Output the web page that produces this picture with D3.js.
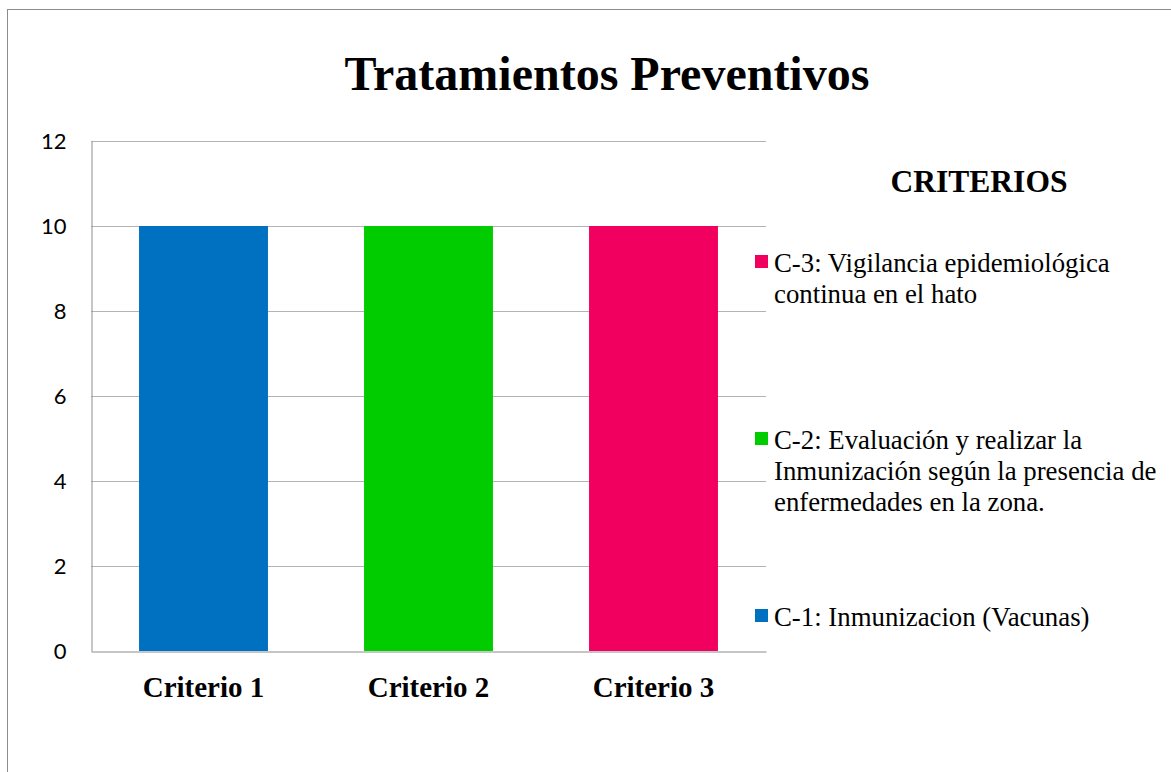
<!DOCTYPE html>
<html>
<head>
<meta charset="utf-8">
<script src="https://cdn.jsdelivr.net/npm/d3@7"></script>
<style>
  body { margin: 0; background: #fff; }
  svg { display: block; }
</style>
</head>
<body>
<div id="chart"></div>
<script>
// datos
const categories = ['Criterio 1', 'Criterio 2', 'Criterio 3'];
const values = [10, 10, 10];
const colors = ['#0070C0', '#00CC00', '#F2005F'];
const legendLabels = [
    'C-1: Inmunizacion (Vacunas)',
    'C-2: Evaluación y realizar la Inmunización según la presencia de enfermedades en la zona.',
    'C-3: Vigilancia epidemiológica continua en el hato'
];
const yTicks = [0, 2, 4, 6, 8, 10, 12];

const width = 1171, height = 772;
const plot = { left: 91, top: 141, right: 766, bottom: 651 };

const svg = d3.select('#chart')
    .append('svg')
    .attr('width', width)
    .attr('height', height);

// marco exterior
svg.append('rect')
    .attr('x', 7.5).attr('y', 9.5)
    .attr('width', 1200).attr('height', 800)
    .attr('fill', 'none')
    .attr('stroke', '#8c8c8c');

// titulo
svg.append('text')
    .attr('x', 607)
    .attr('y', 90)
    .attr('text-anchor', 'middle')
    .style('font-family', '"Liberation Serif", "Times New Roman", serif')
    .style('font-weight', 'bold')
    .style('font-size', '48px')
    .text('Tratamientos Preventivos');

// escalas
const xScale = d3.scaleBand()
    .domain(categories)
    .range([plot.left, plot.right]);

const yScale = d3.scaleLinear()
    .domain([0, 12])
    .range([plot.bottom, plot.top]);

const barWidth = xScale.bandwidth() * 0.573;

// lineas de cuadricula
svg.append('g')
    .selectAll('line')
    .data(yTicks.filter(d => d > 0))
    .enter().append('line')
    .attr('x1', plot.left).attr('x2', plot.right)
    .attr('y1', d => Math.round(yScale(d)) + 0.5)
    .attr('y2', d => Math.round(yScale(d)) + 0.5)
    .attr('stroke', '#b3b3b3')
    .attr('stroke-width', 1);

// barras
svg.append('g')
    .selectAll('rect')
    .data(values)
    .enter().append('rect')
    .attr('x', (d, i) => xScale(categories[i]) + (xScale.bandwidth() - barWidth) / 2)
    .attr('y', d => yScale(d))
    .attr('width', barWidth)
    .attr('height', d => yScale(0) - yScale(d))
    .attr('fill', (d, i) => colors[i]);

// eje y
const yAxis = d3.axisLeft(yScale)
    .tickValues(yTicks)
    .tickSize(0)
    .tickPadding(25);
const gy = svg.append('g')
    .attr('transform', `translate(${plot.left + 0.5}, 0)`)
    .call(yAxis);
gy.select('.domain').attr('stroke', '#8c8c8c');
gy.selectAll('text')
    .style('font-family', 'Lato, "Noto Sans", sans-serif')
    .style('font-size', '22px')
    .attr('fill', '#000');

// eje x
const xAxis = d3.axisBottom(xScale).tickSize(0).tickPadding(25);
const gx = svg.append('g')
    .attr('transform', `translate(0, ${plot.bottom + 0.5})`)
    .call(xAxis);
gx.select('.domain').attr('stroke', '#8c8c8c');
gx.selectAll('text')
    .style('font-family', '"Liberation Serif", "Times New Roman", serif')
    .style('font-weight', 'bold')
    .style('font-size', '29px')
    .attr('fill', '#000');

// leyenda
svg.append('text')
    .attr('x', 979)
    .attr('y', 192)
    .attr('text-anchor', 'middle')
    .style('font-family', '"Liberation Serif", "Times New Roman", serif')
    .style('font-weight', 'bold')
    .style('font-size', '31.5px')
    .text('CRITERIOS');

const legendItems = legendLabels.map((label, i) => ({ label, color: colors[i] })).reverse();
const legend = svg.append('g');
legendItems.forEach((d, i) => {
    const top = 255 + i * 177;
    legend.append('rect')
        .attr('x', 755).attr('y', top)
        .attr('width', 13).attr('height', 13)
        .attr('fill', d.color);
    const t = legend.append('text')
        .attr('x', 774)
        .attr('y', top + 17)
        .style('font-family', '"Liberation Serif", "Times New Roman", serif')
        .style('font-size', '26.8px')
        .attr('fill', '#000');
    // partir el texto en lineas
    const words = d.label.split(' ');
    let line = [];
    let tspan = t.append('tspan').attr('x', 774).attr('dy', 0);
    words.forEach(w => {
        line.push(w);
        tspan.text(line.join(' '));
        if (tspan.node().getComputedTextLength() > 393 && line.length > 1) {
            line.pop();
            tspan.text(line.join(' '));
            line = [w];
            tspan = t.append('tspan').attr('x', 774).attr('dy', 31).text(w);
        }
    });
});
</script>
</body>
</html>
